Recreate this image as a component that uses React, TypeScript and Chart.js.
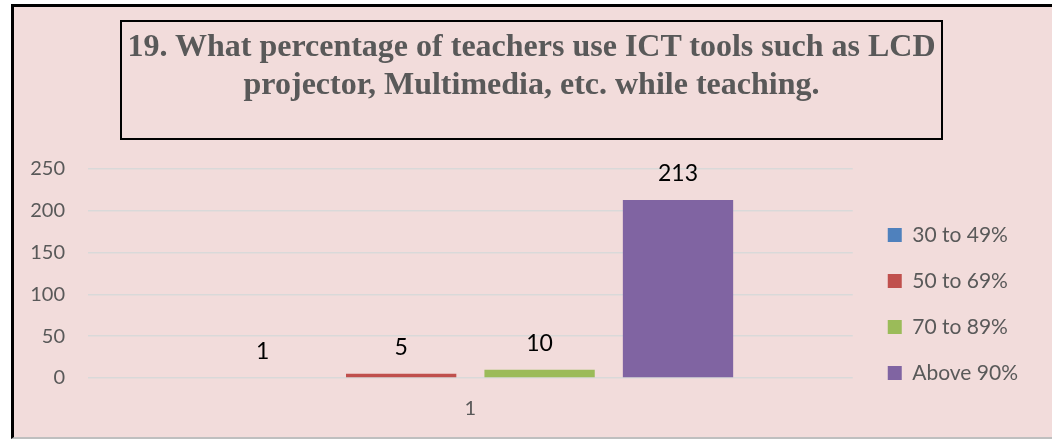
import React, { useEffect, useRef } from "react";
import { Chart, registerables } from "chart.js";

Chart.register(...registerables);

const categories = ["1"];
const seriesNames = ["30 to 49%", "50 to 69%", "70 to 89%", "Above 90%"];
const seriesValues = [[1], [5], [10], [213]];
const seriesColors = ["#4F81BD", "#C0504D", "#9BBB59", "#8064A2"];
const yMin = 0;
const yMax = 250;
const yStep = 50;
const titleLines = [
  "19. What percentage of teachers use ICT tools such as LCD",
  "projector, Multimedia, etc. while teaching.",
];

const valueLabels = {
  id: "valueLabels",
  afterDatasetsDraw(chart: any) {
    const ctx = chart.ctx;
    ctx.save();
    ctx.font = "23px Lato";
    ctx.fillStyle = "#000000";
    ctx.textAlign = "center";
    ctx.textBaseline = "middle";
    chart.data.datasets.forEach((ds: any, i: number) => {
      const meta = chart.getDatasetMeta(i);
      meta.data.forEach((el: any, j: number) => {
        ctx.fillText(String(ds.data[j]), el.x, el.y - 26);
      });
    });
    ctx.restore();
  },
};

const legendShift = {
  id: "legendShift",
  afterLayout(chart: any) {
    const lg = chart.legend;
    if (!lg) return;
    const dx = chart.chartArea.right + 10 - lg.left;
    lg.left += dx;
    lg.right += dx;
    lg.top += 9;
    lg.bottom += 9;
  },
};

export default function App() {
  const ref = useRef<HTMLCanvasElement>(null);
  useEffect(() => {
    if (!ref.current) return;
    const chart = new Chart(ref.current, {
      type: "bar",
      data: {
        labels: categories,
        datasets: seriesNames.map((name, i) => ({
          label: name,
          data: seriesValues[i],
          backgroundColor: seriesColors[i],
          borderWidth: 0,
          categoryPercentage: 0.724,
          barPercentage: 0.797,
        })),
      },
      options: {
        responsive: false,
        animation: false,
        devicePixelRatio: 1,
        layout: { padding: { left: 0, top: 169, right: 34, bottom: 18 } },
        plugins: {
          title: { display: false },
          tooltip: { enabled: false },
          legend: {
            position: "right",
            labels: {
              boxWidth: 14,
              boxHeight: 14,
              padding: 25,
              color: "#595959",
              font: { family: "Lato", size: 21 },
            },
          },
        },
        scales: {
          x: {
            grid: { display: false, drawTicks: false },
            border: { display: false },
            ticks: { color: "#595959", font: { family: "Lato", size: 20 }, padding: 19 },
            afterFit(scale: any) {
              scale.height = 43;
            },
          },
          y: {
            min: yMin,
            max: yMax,
            ticks: {
              stepSize: yStep,
              color: "#595959",
              font: { family: "Lato", size: 20 },
              padding: 23,
            },
            grid: { color: "#D9D9D9", lineWidth: 1.5, drawTicks: false },
            border: { display: false },
            afterFit(scale: any) {
              scale.width = 88;
            },
          },
        },
      },
      plugins: [valueLabels, legendShift],
    });
    return () => chart.destroy();
  }, []);

  return (
    <div style={{ position: "absolute", left: 0, top: 0, width: 1052, height: 439, overflow: "hidden" }}>
      <div
        style={{
          position: "absolute",
          left: 11,
          top: 4,
          width: 1100,
          height: 435,
          boxSizing: "border-box",
          background: "#F2DCDB",
          borderLeft: "3px solid #000",
          borderTop: "3px solid #000",
          borderBottom: "2px solid #BFBFBF",
        }}
      />
      <canvas ref={ref} width={1052} height={439} style={{ position: "absolute", left: 0, top: 0 }} />
      <div
        style={{
          position: "absolute",
          left: 120,
          top: 20,
          width: 823,
          height: 120,
          boxSizing: "border-box",
          border: "2px solid #000",
          paddingTop: 4,
          textAlign: "center",
          fontFamily: "'Liberation Serif', 'Times New Roman', serif",
          fontWeight: "bold",
          fontSize: 32,
          lineHeight: "38px",
          color: "#595959",
        }}
      >
        {titleLines.map((t, i) => (
          <div key={i} style={{ whiteSpace: "nowrap" }}>{t}</div>
        ))}
      </div>
    </div>
  );
}
